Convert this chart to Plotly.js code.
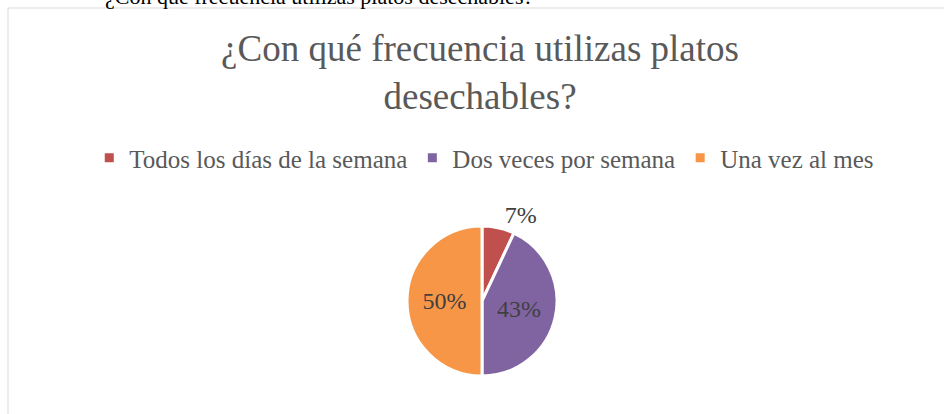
<!DOCTYPE html>
<html>
<head>
<meta charset="utf-8">
<script src="https://cdn.plot.ly/plotly-3.0.1.min.js"></script>
<style>html,body{margin:0;padding:0;overflow:hidden;background:#fff}#chart{width:944px;height:414px}</style>
</head>
<body>
<div id="chart"></div>
<script>
const categories = ['Todos los días de la semana', 'Dos veces por semana', 'Una vez al mes'];
const values = [7, 43, 50];
const colors = ['#C0504D', '#8064A2', '#F79646'];
const textPositions = ['outside', 'inside', 'inside'];
const chartTitle = '¿Con qué frecuencia utilizas platos<br>desechables?';
const docText = '¿Con qué frecuencia utilizas platos desechables?';

const W = 944, H = 414;
const cx = 482, cy = 301, r = 75;
const serif = 'Liberation Serif, serif';

const trace = {
  type: 'pie',
  labels: categories,
  values: values,
  sort: false,
  direction: 'clockwise',
  rotation: 0,
  marker: {colors: colors, line: {color: '#ffffff', width: 3}},
  textinfo: 'percent',
  texttemplate: '%{percent:.0%}',
  textposition: textPositions,
  insidetextorientation: 'horizontal',
  textfont: {family: serif, size: 24, color: '#404040'},
  outsidetextfont: {family: serif, size: 24, color: '#404040'},
  insidetextfont: {family: serif, size: 24, color: '#404040'},
  hoverinfo: 'label+percent',
  automargin: false,
  domain: {x: [(cx - r) / W, (cx + r) / W], y: [(H - cy - r) / H, (H - cy + r) / H]}
};

const layout = {
  width: W, height: H,
  margin: {l: 0, r: 0, t: 0, b: 0},
  paper_bgcolor: '#ffffff',
  showlegend: true,
  title: {
    text: chartTitle,
    x: 0.5085, xanchor: 'center', xref: 'paper',
    y: 1 - 61 / H, yanchor: 'top', yref: 'container',
    font: {family: serif, size: 37, color: '#595959'}
  },
  legend: {
    orientation: 'h',
    x: 0.513, xanchor: 'center',
    y: 1 - 158 / H, yanchor: 'middle',
    font: {family: serif, size: 25, color: '#595959'},
    itemwidth: 30,
    traceorder: 'normal'
  },
  shapes: [{
    type: 'rect', xref: 'paper', yref: 'paper',
    x0: 8 / W, x1: 1.05, y0: -0.05, y1: 1 - 8 / H,
    line: {color: '#d9d9d9', width: 1}, fillcolor: 'rgba(0,0,0,0)', layer: 'below'
  }],
  annotations: [{
    text: docText, xref: 'paper', yref: 'paper',
    x: 103 / W, xanchor: 'left', y: 1 + 3 / H, yanchor: 'middle',
    showarrow: false,
    font: {family: serif, size: 22, color: '#000000'}
  }]
};

Plotly.newPlot('chart', [trace], layout, {displayModeBar: false, staticPlot: true});
</script>
</body>
</html>
